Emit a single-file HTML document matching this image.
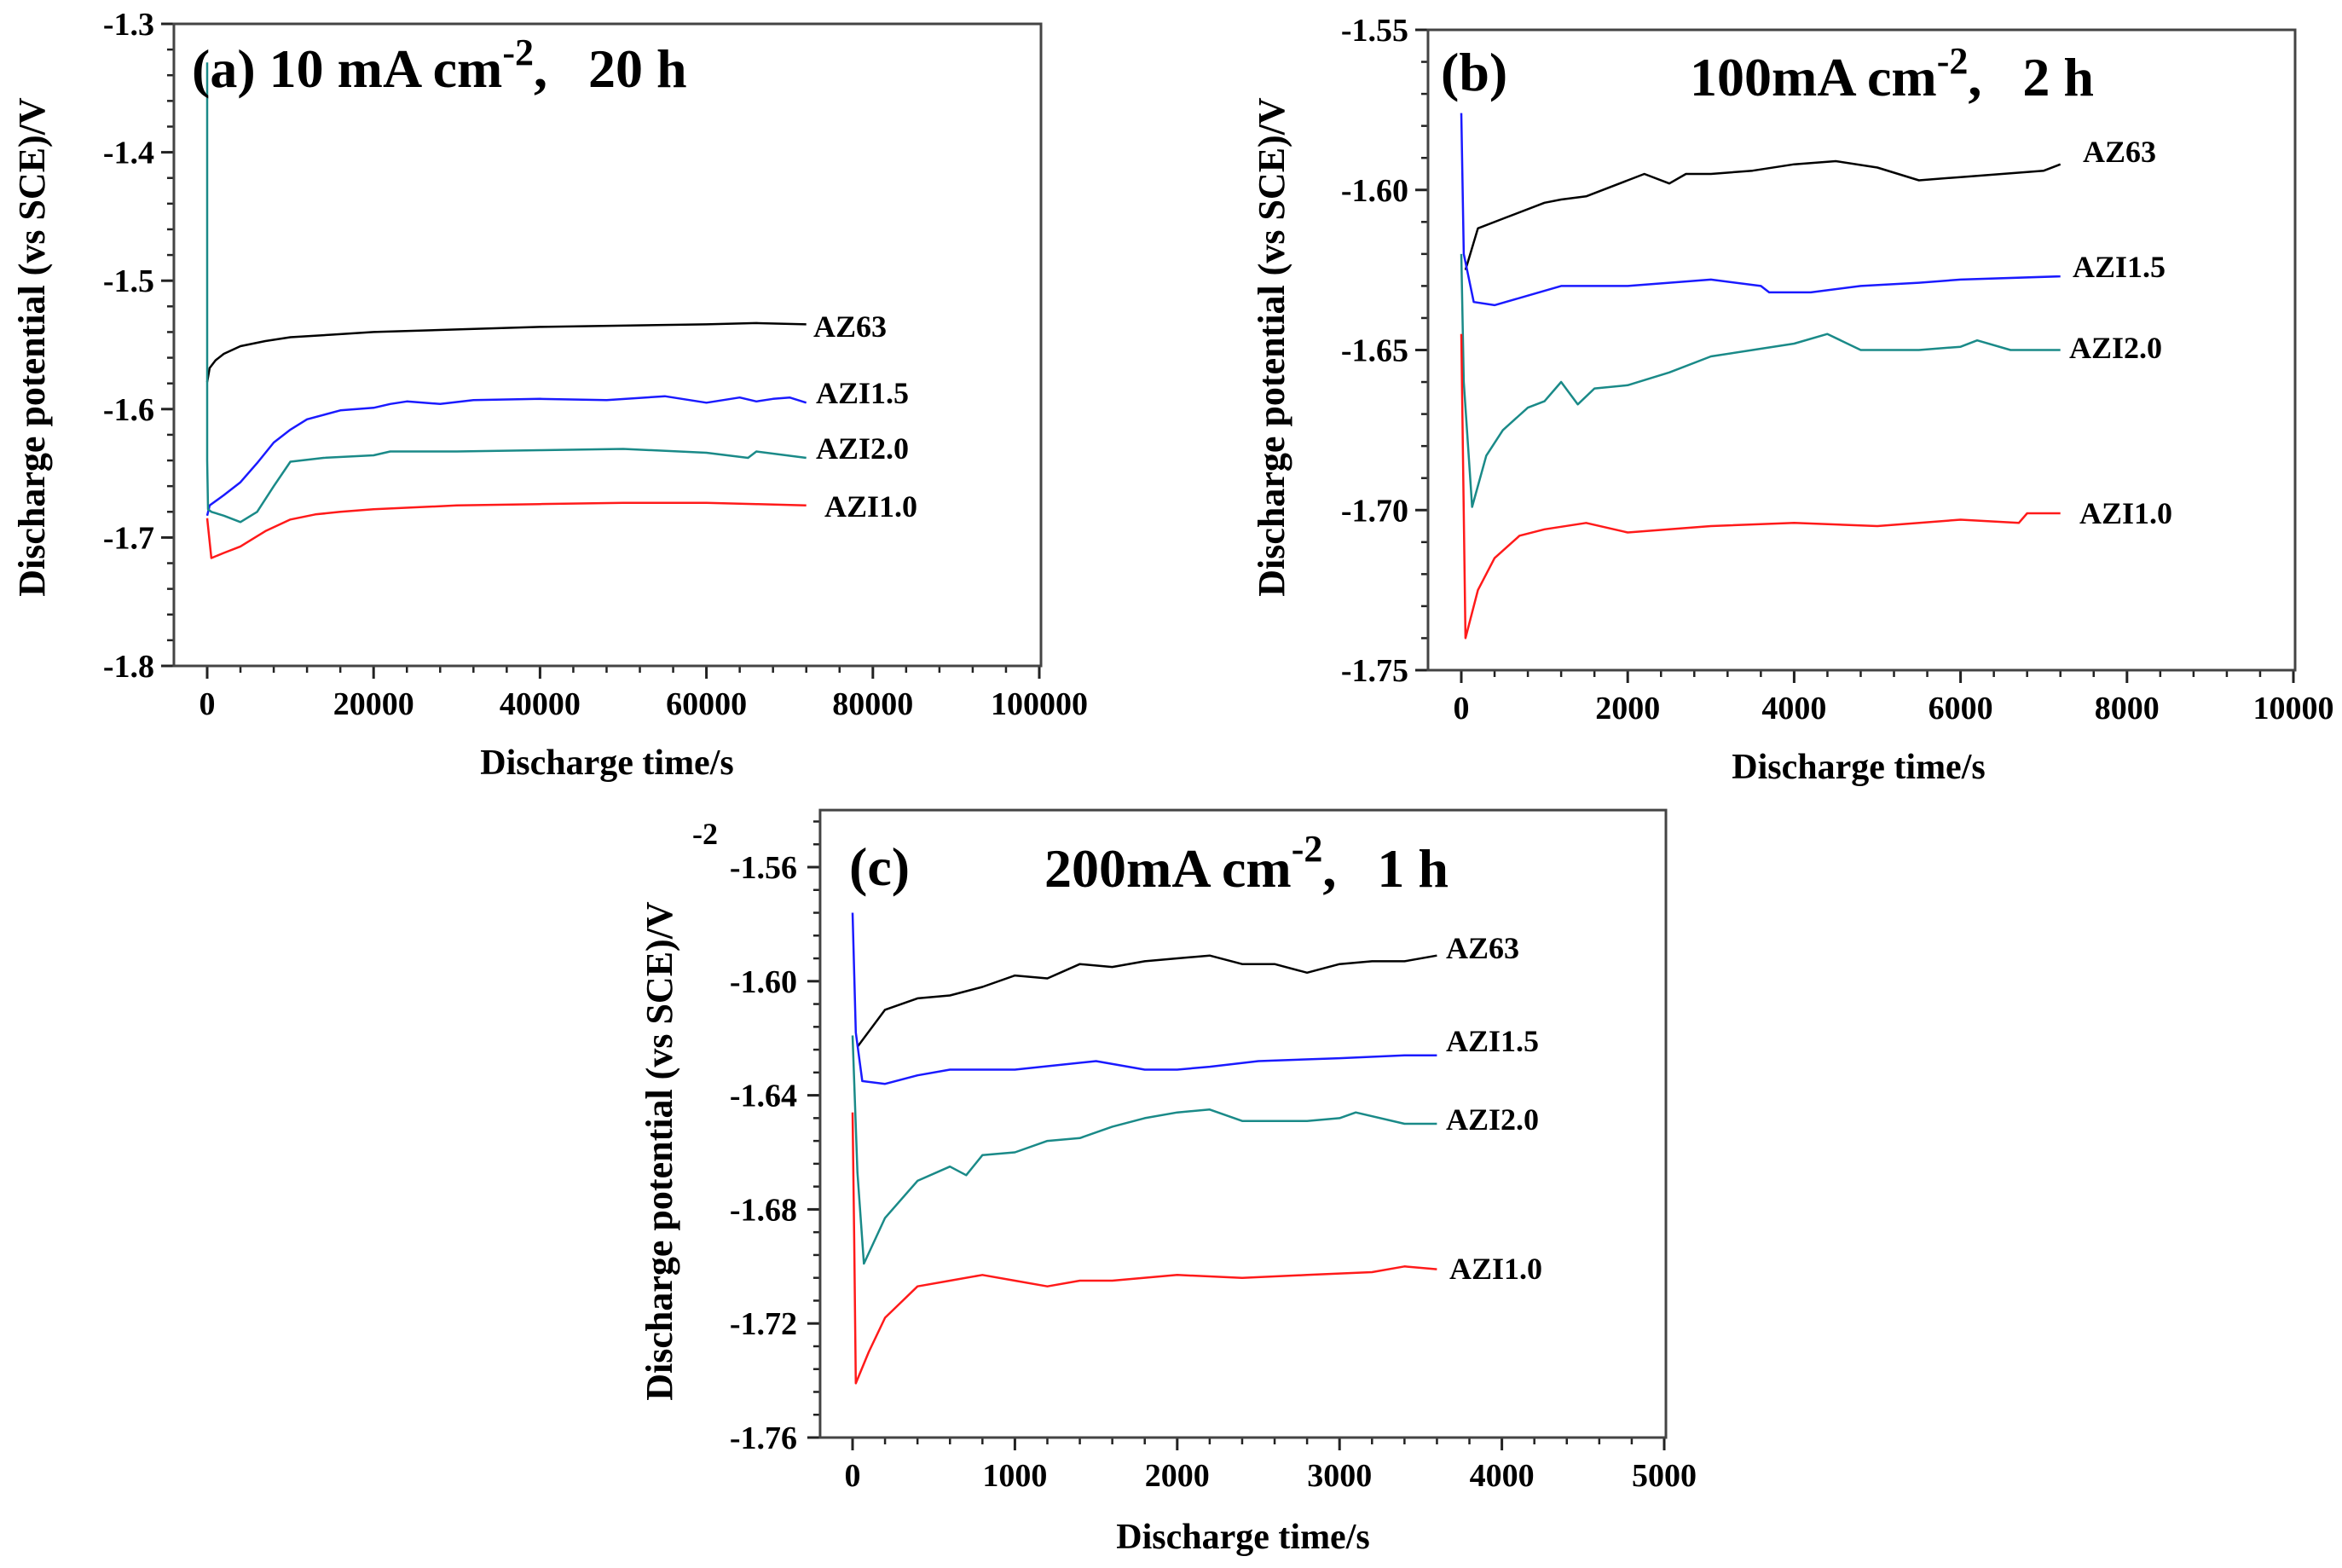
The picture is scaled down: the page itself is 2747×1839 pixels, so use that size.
<!DOCTYPE html>
<html><head><meta charset="utf-8">
<style>
html,body{margin:0;padding:0;background:#fff;}
svg{display:block;font-family:"Liberation Serif",serif;font-weight:bold;}
</style></head>
<body>
<svg id="fig" width="2747" height="1839" viewBox="0 0 2747 1839" xmlns="http://www.w3.org/2000/svg"></svg>
<script>
// ---- Panel (a) data: time (s), potential (V) ----
const aAZ63T=[0,300,1000,2000,4000,7000,10000,15000,20000,30000,40000,50000,60000,66000,72000];
const aAZ63V=[-1.579,-1.568,-1.562,-1.557,-1.551,-1.547,-1.544,-1.542,-1.540,-1.538,-1.536,-1.535,-1.534,-1.533,-1.534];
const aAZI15T=[0,300,2000,4000,6000,8000,10000,12000,16000,20000,22000,24000,28000,32000,40000,48000,55000,60000,64000,66000,68000,70000,72000];
const aAZI15V=[-1.683,-1.675,-1.667,-1.657,-1.642,-1.626,-1.616,-1.608,-1.601,-1.599,-1.596,-1.594,-1.596,-1.593,-1.592,-1.593,-1.590,-1.595,-1.591,-1.594,-1.592,-1.591,-1.595];
const aAZI20T=[0,0,100,500,2000,4000,6000,8000,10000,14000,20000,22000,30000,40000,50000,60000,65000,66000,72000];
const aAZI20V=[-1.33,-1.64,-1.678,-1.680,-1.683,-1.688,-1.680,-1.660,-1.641,-1.638,-1.636,-1.633,-1.633,-1.632,-1.631,-1.634,-1.638,-1.633,-1.638];
const aAZI10T=[0,500,2000,4000,7000,10000,13000,16000,20000,30000,40000,50000,60000,66000,72000];
const aAZI10V=[-1.685,-1.716,-1.712,-1.707,-1.695,-1.686,-1.682,-1.680,-1.678,-1.675,-1.674,-1.673,-1.673,-1.674,-1.675];
// ---- Panel (b) data ----
const bAZ63T=[50,200,500,1000,1200,1500,2000,2200,2500,2700,3000,3500,4000,4500,5000,5500,6000,6500,7000,7200];
const bAZ63V=[-1.625,-1.612,-1.609,-1.604,-1.603,-1.602,-1.597,-1.595,-1.598,-1.595,-1.595,-1.594,-1.592,-1.591,-1.593,-1.597,-1.596,-1.595,-1.594,-1.592];
const bAZI15T=[0,30,150,400,800,1200,2000,3000,3600,3700,4200,4800,5500,6000,7200];
const bAZI15V=[-1.576,-1.620,-1.635,-1.636,-1.633,-1.630,-1.630,-1.628,-1.630,-1.632,-1.632,-1.630,-1.629,-1.628,-1.627];
const bAZI20T=[0,30,130,300,500,800,1000,1200,1400,1600,2000,2500,3000,3500,4000,4400,4800,5500,6000,6200,6600,7200];
const bAZI20V=[-1.620,-1.660,-1.699,-1.683,-1.675,-1.668,-1.666,-1.660,-1.667,-1.662,-1.661,-1.657,-1.652,-1.650,-1.648,-1.645,-1.650,-1.650,-1.649,-1.647,-1.650,-1.650];
const bAZI10T=[0,50,200,400,700,1000,1500,2000,2500,3000,4000,5000,6000,6700,6800,7200];
const bAZI10V=[-1.645,-1.740,-1.725,-1.715,-1.708,-1.706,-1.704,-1.707,-1.706,-1.705,-1.704,-1.705,-1.703,-1.704,-1.701,-1.701];
// ---- Panel (c) data ----
const cAZ63T=[30,200,400,600,800,1000,1200,1400,1600,1800,2000,2200,2400,2600,2800,3000,3200,3400,3600];
const cAZ63V=[-1.623,-1.610,-1.606,-1.605,-1.602,-1.598,-1.599,-1.594,-1.595,-1.593,-1.592,-1.591,-1.594,-1.594,-1.597,-1.594,-1.593,-1.593,-1.591];
const cAZI15T=[0,20,60,200,400,600,1000,1500,1800,2000,2200,2500,3000,3400,3600];
const cAZI15V=[-1.576,-1.618,-1.635,-1.636,-1.633,-1.631,-1.631,-1.628,-1.631,-1.631,-1.630,-1.628,-1.627,-1.626,-1.626];
const cAZI20T=[0,30,70,200,400,600,700,800,1000,1200,1400,1600,1800,2000,2200,2400,2600,2800,3000,3100,3400,3600];
const cAZI20V=[-1.619,-1.667,-1.699,-1.683,-1.670,-1.665,-1.668,-1.661,-1.660,-1.656,-1.655,-1.651,-1.648,-1.646,-1.645,-1.649,-1.649,-1.649,-1.648,-1.646,-1.650,-1.650];
const cAZI10T=[0,10,20,100,200,400,600,800,1000,1200,1400,1600,2000,2400,2800,3200,3400,3600];
const cAZI10V=[-1.646,-1.690,-1.741,-1.730,-1.718,-1.707,-1.705,-1.703,-1.705,-1.707,-1.705,-1.705,-1.703,-1.704,-1.703,-1.702,-1.700,-1.701];
// ---- ticks ----
const aXTicks=[0,20000,40000,60000,80000,100000];
const aYTicks=[-1.3,-1.4,-1.5,-1.6,-1.7,-1.8];
const aYLabels=["-1.3","-1.4","-1.5","-1.6","-1.7","-1.8"];
const bXTicks=[0,2000,4000,6000,8000,10000];
const bYTicks=[-1.55,-1.60,-1.65,-1.70,-1.75];
const bYLabels=["-1.55","-1.60","-1.65","-1.70","-1.75"];
const cXTicks=[0,1000,2000,3000,4000,5000];
const cYTicks=[-1.56,-1.60,-1.64,-1.68,-1.72,-1.76];
const cYLabels=["-1.56","-1.60","-1.64","-1.68","-1.72","-1.76"];
const seriesNames=["AZ63","AZI1.5","AZI2.0","AZI1.0"];
const seriesColors=["#000000","#1a1aff","#1a8a88","#ff1a1a"];

const NS="http://www.w3.org/2000/svg";
const svg=document.getElementById('fig');
function mk(tag,attrs,parent){const e=document.createElementNS(NS,tag);for(const k in attrs)e.setAttribute(k,attrs[k]);(parent||svg).appendChild(e);return e;}

function panel(p){
  const g=mk('g',{});
  
  
  const sx=v=>p.x0+(v-p.xmin)/(p.xmax-p.xmin)*(p.x1-p.x0);
  const sy=v=>p.y0+(p.ymax-v)/(p.ymax-p.ymin)*(p.y1-p.y0);
  const fl=sx(p.fxmin),fr=p.fr,ft=sy(p.fymax),fb=sy(p.ymin);
  for(let v=p.xmin;v<=p.xmax+1e-9;v+=p.xminor){const x=sx(v);mk('line',{x1:x,x2:x,y1:fb,y2:fb+8,stroke:'#222','stroke-width':2.5},g);}
  for(let v=p.ymin;v<=p.fymax+1e-9;v+=p.yminor){const y=sy(v);mk('line',{x1:fl-8,x2:fl,y1:y,y2:y,stroke:'#222','stroke-width':2.5},g);}
  p.xt.forEach(v=>{const x=sx(v);mk('line',{x1:x,x2:x,y1:fb,y2:fb+15,stroke:'#222','stroke-width':3},g);
    const t=mk('text',{x:x,y:p.xly,'text-anchor':'middle','font-size':38},g);t.textContent=String(v);
    
    });
  p.yt.forEach((v,i)=>{const y=sy(v);mk('line',{x1:fl-15,x2:fl,y1:y,y2:y,stroke:'#222','stroke-width':3},g);
    const t=mk('text',{x:p.ylx,y:y+13,'text-anchor':'end','font-size':38},g);t.textContent=p.yl[i];
    
    });
  const fr_=mk('rect',{x:fl,y:ft,width:fr-fl,height:fb-ft,fill:'none',stroke:'#444','stroke-width':3},g);
  
  
  p.series.forEach((s,i)=>{
    const d=s.t.map((t,j)=>(j?'L':'M')+sx(t).toFixed(1)+','+sy(s.v[j]).toFixed(1)).join('');
    const pl=mk('path',{d:d,fill:'none',stroke:seriesColors[i],'stroke-width':2.5,'stroke-linejoin':'round'},g);
    
    
    const lb=mk('text',{x:p.lab[i][0],y:p.lab[i][1]+13,'font-size':36},g);lb.textContent=seriesNames[i];
    
    
  });
  const xt=mk('text',{x:p.xtx,y:p.xty,'text-anchor':'middle','font-size':42},g);xt.textContent='Discharge time/s';
  
  
  const yt=mk('text',{x:0,y:0,'text-anchor':'middle','font-size':44,transform:`translate(${p.ytx},${p.yty}) rotate(-90)`},g);
  yt.textContent='Discharge potential (vs SCE)/V';
  
  
  const tt=mk('text',{x:p.tx,y:p.ty,'font-size':64},g);tt.innerHTML=p.title;
  
  
}

panel({id:'a',x0:243,x1:1219,xmin:0,xmax:100000,fxmin:-4000,fr:1221,y0:28,y1:781,ymin:-1.8,ymax:-1.3,fymax:-1.3,
  xminor:4000,yminor:0.02,xt:aXTicks,yt:aYTicks,yl:aYLabels,xly:838,ylx:181,
  series:[{t:aAZ63T,v:aAZ63V},{t:aAZI15T,v:aAZI15V},{t:aAZI20T,v:aAZI20V},{t:aAZI10T,v:aAZI10V}],
  lab:[[954,382],[957,460],[957,525],[967,593]],xtx:712,xty:908,ytx:52,yty:407,tx:225,ty:102,
  title:'(a) 10 mA cm<tspan dy="-26" font-size="44">-2</tspan><tspan dy="26">,&#160;&#160;&#160;20 h</tspan>'});
panel({id:'b',x0:1714,x1:2690,xmin:0,xmax:10000,fxmin:-400,fr:2692,y0:35,y1:786,ymin:-1.75,ymax:-1.55,fymax:-1.55,
  xminor:400,yminor:0.01,xt:bXTicks,yt:bYTicks,yl:bYLabels,xly:843,ylx:1652,
  series:[{t:bAZ63T,v:bAZ63V},{t:bAZI15T,v:bAZI15V},{t:bAZI20T,v:bAZI20V},{t:bAZI10T,v:bAZI10V}],
  lab:[[2443,177],[2431,312],[2427,407],[2439,601]],xtx:2180,xty:913,ytx:1506,yty:407,tx:1690,ty:106,
  title:'(b)<tspan x="1982" y="112">100mA cm</tspan><tspan dy="-26" font-size="44">-2</tspan><tspan dy="26">,&#160;&#160;&#160;2 h</tspan>'});
panel({id:'c',x0:1000,x1:1952,xmin:0,xmax:5000,fxmin:-200,fr:1954,y0:1017,y1:1686,ymin:-1.76,ymax:-1.56,fymax:-1.54,
  xminor:200,yminor:0.008,xt:cXTicks,yt:cYTicks,yl:cYLabels,xly:1743,ylx:935,
  series:[{t:cAZ63T,v:cAZ63V},{t:cAZI15T,v:cAZI15V},{t:cAZI20T,v:cAZI20V},{t:cAZI10T,v:cAZI10V}],
  lab:[[1696,1111],[1696,1220],[1696,1312],[1700,1487]],xtx:1458,xty:1816,ytx:788,yty:1350,tx:996,ty:1038,
  title:'(c)<tspan x="1225" y="1040">200mA cm</tspan><tspan dy="-30" font-size="44">-2</tspan><tspan dy="30">,&#160;&#160;&#160;1 h</tspan>'});
const stray=mk('text',{x:812,y:990,'font-size':36});stray.textContent='-2';


</script>
</body></html>
